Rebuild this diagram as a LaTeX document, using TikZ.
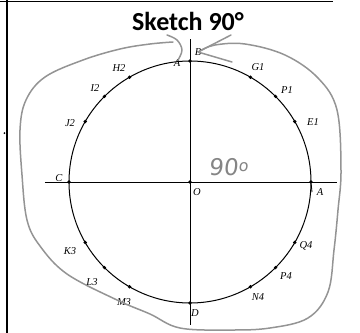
\documentclass[tikz,border=0pt]{standalone}
\usepackage{fontspec}
\setmainfont{Liberation Serif}
\newfontfamily\titlefont{Carlito}
\newfontfamily\handfont{DejaVu Sans}
\begin{document}
\begin{tikzpicture}[x=1pt,y=-1pt,
  dot/.style={circle,fill=black,inner sep=0pt,minimum size=3.6pt},
  lbl/.style={font=\itshape\fontsize{10.5}{10.5}\selectfont,inner sep=0pt},
  pencil/.style={draw=black!42,line width=1.5pt,line cap=round,line join=round},
  axis/.style={draw=black,line width=0.85pt}]
\useasboundingbox (0,0) rectangle (360,333);
% frame
\draw[line width=1.3pt] (0,1.2) -- (333,1.2);
\draw[line width=1.3pt] (7,0) -- (7,333);
\fill (4.5,133) circle[radius=1pt];
% title
\node[font=\titlefont\bfseries\fontsize{26}{26}\selectfont,inner sep=0pt] (title) at (188,21) {Sketch 90°};
% axes
\coordinate (O) at (190,182);
\coordinate (xl) at (45,182);
\coordinate (xr) at (337,182);
\coordinate (yt) at (190,39);
\coordinate (yb) at (190,325);
\draw[axis] (xl) -- (xr);
\draw[axis] (yt) -- (yb);
% circle
\draw[line width=1pt] (O) circle[radius=121];
% points
\node[dot] (Od) at (O) {};
\path (O) ++(0:121) node[dot] (A) {};
\path (O) ++(90:121) node[dot] (B) {};
\path (O) ++(180:121) node[dot] (C) {};
\path (O) ++(270:121) node[dot] (D) {};
\path (O) ++(30:121) node[dot] (E1) {};
\path (O) ++(45:121) node[dot] (P1) {};
\path (O) ++(60:121) node[dot] (G1) {};
\path (O) ++(120:121) node[dot] (H2) {};
\path (O) ++(135:121) node[dot] (I2) {};
\path (O) ++(150:121) node[dot] (J2) {};
\path (O) ++(210:121) node[dot] (K3) {};
\path (O) ++(225:121) node[dot] (L3) {};
\path (O) ++(240:121) node[dot] (M3) {};
\path (O) ++(300:121) node[dot] (N4) {};
\path (O) ++(315:121) node[dot] (P4) {};
\path (O) ++(330:121) node[dot] (Q4) {};
% tick below A
\coordinate (At) at (312,192);
\draw[line width=0.8pt] (A) -- (At);
% labels
\node[lbl] (lA) at (320,192) {A};
\node[lbl] (lB) at (198,52) {B};
\node[lbl] (lA2) at (177,63) {A};
\node[lbl] (lC) at (59,178) {C};
\node[lbl] (lD) at (195,313) {D};
\node[lbl] (lO) at (197,192) {O};
\node[lbl] (lE1) at (313,122) {E1};
\node[lbl] (lP1) at (287,90) {P1};
\node[lbl] (lG1) at (258,67) {G1};
\node[lbl] (lH2) at (119,68) {H2};
\node[lbl] (lI2) at (95,88) {I2};
\node[lbl] (lJ2) at (70,123) {J2};
\node[lbl] (lK3) at (70,251) {K3};
\node[lbl] (lL3) at (92,282) {L3};
\node[lbl] (lM3) at (124,302) {M3};
\node[lbl] (lN4) at (258,297) {N4};
\node[lbl] (lP4) at (286,276) {P4};
\node[lbl] (lQ4) at (306,246) {Q4};
% handwritten 90
\node[font=\handfont\fontsize{23}{23}\selectfont,text=black!48,inner sep=0pt,xslant=0.1] (h90) at (229,167) {90\raisebox{4pt}{\fontsize{16}{16}\selectfont o}};
% pencil loop
\draw[pencil] plot[smooth,tension=0.6] coordinates {(178,60) (182,50) (177,40) (167,35)};
\draw[pencil] plot[smooth,tension=0.6] coordinates {(173,42) (150,44) (120,49) (83,60) (45,77) (26,100) (20,130) (22,175) (27,220) (40,246) (67,274) (117,300) (150,314) (180,328) (230,330) (270,328) (308,318) (328,292) (334,250) (338,210) (341,170) (337,110) (318,78) (285,55) (245,44) (215,45) (200,51)};
\coordinate (tip) at (198,52);
\coordinate (bar1) at (231,35);
\coordinate (bar2) at (232,62);
\draw[pencil] (bar1) -- (tip) -- (bar2);
\end{tikzpicture}
\end{document}
